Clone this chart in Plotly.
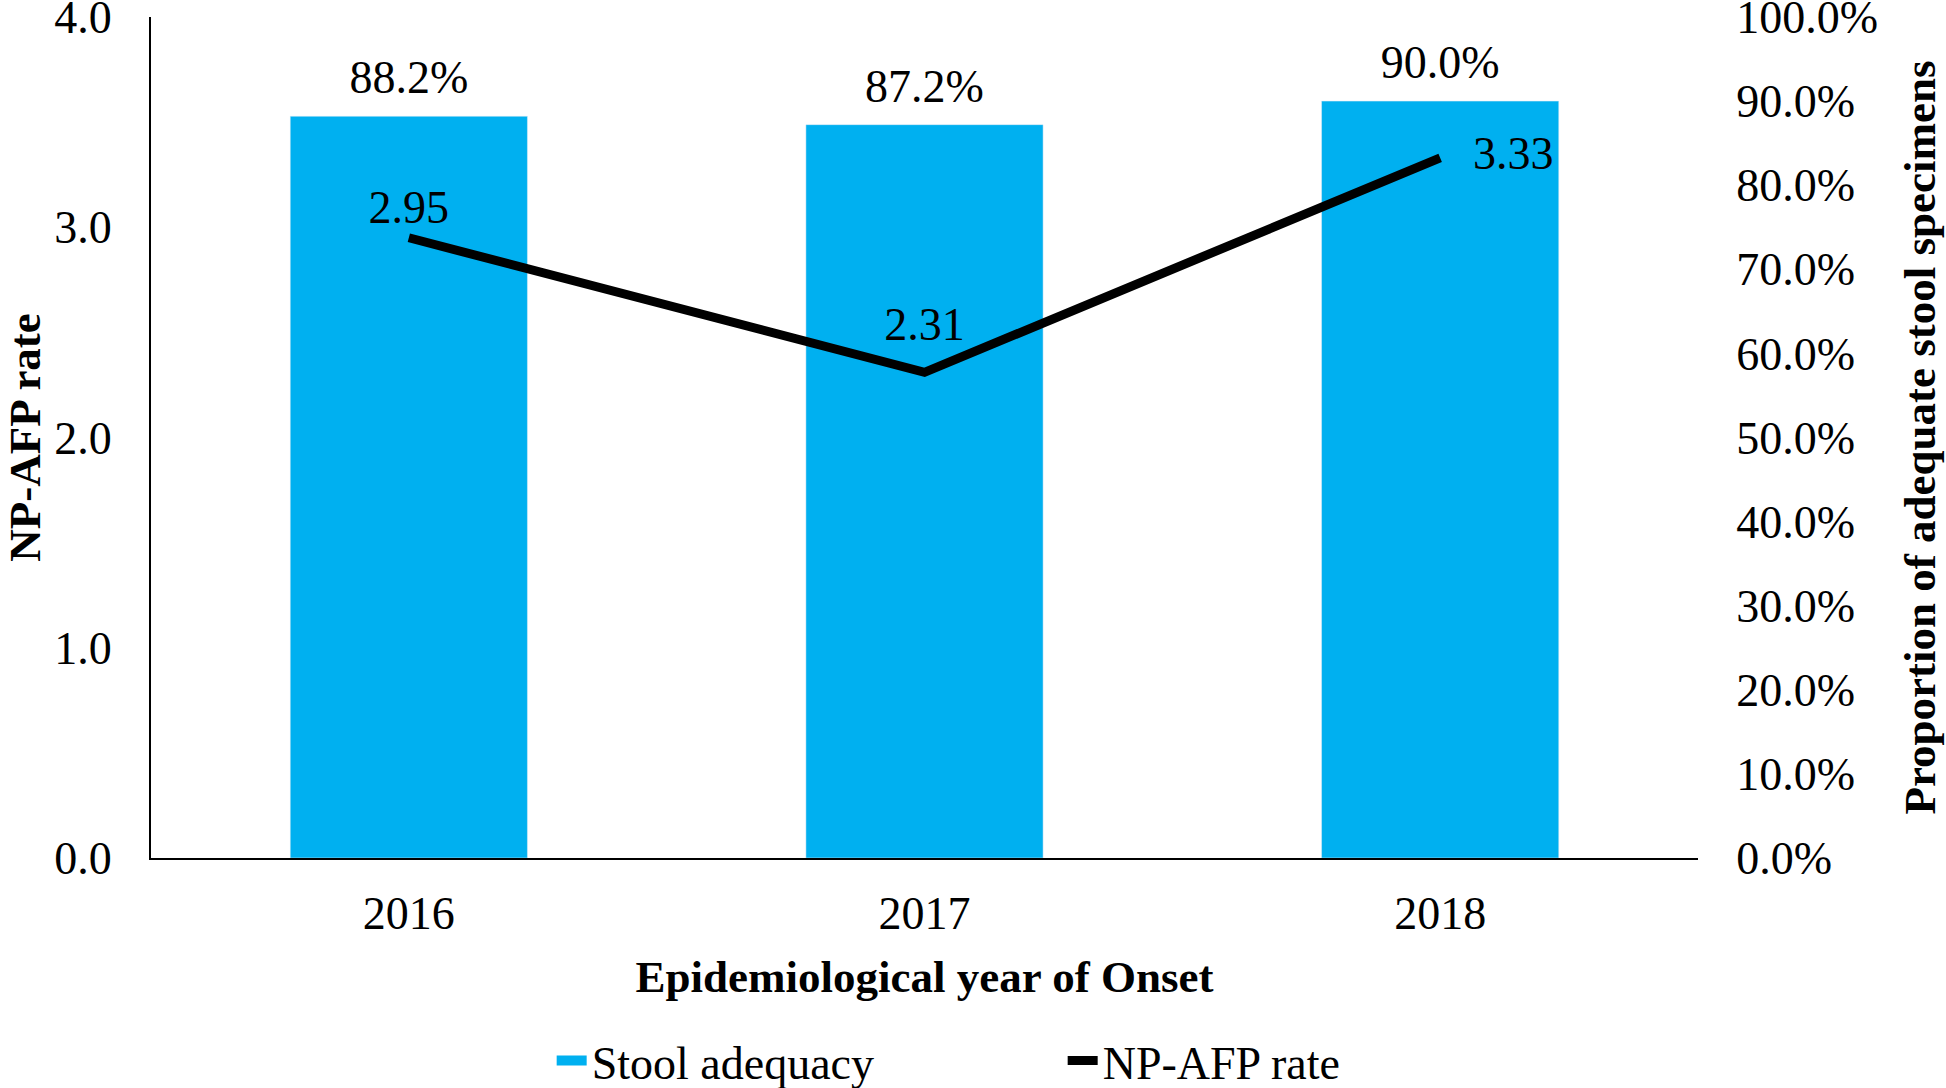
import plotly.graph_objects as go

years = ["2016", "2017", "2018"]
stool_adequacy = [0.882, 0.872, 0.900]
stool_labels = ["88.2%", "87.2%", "90.0%"]
np_afp_rate = [2.95, 2.31, 3.33]
np_afp_labels = ["2.95", "2.31", "3.33"]

FONT = "Liberation Serif, Times New Roman, serif"
BLUE = "#00B0F0"
CLEAR = "rgba(0,0,0,0)"
TS = 46   # tick / label text size
TT = 45   # axis title size

fig = go.Figure()
fig.add_trace(go.Bar(
    x=years, y=stool_adequacy, name="Stool adequacy", showlegend=False,
    marker_color=BLUE, xaxis="x", yaxis="y", hoverinfo="skip",
))
# value labels above the bars
fig.add_trace(go.Scatter(
    x=years, y=stool_adequacy, text=stool_labels, mode="markers+text",
    textposition="top center", marker=dict(size=17, color=CLEAR, line=dict(width=0, color=CLEAR)),
    textfont=dict(size=TS, family=FONT, color="black"), cliponaxis=False,
    showlegend=False, xaxis="x", yaxis="y", hoverinfo="skip",
))
# legend proxy with a wide swatch for the bar series
fig.add_trace(go.Scatter(
    x=[years[0]], y=[None], name="Stool adequacy", mode="lines",
    line=dict(color=BLUE, width=24), xaxis="x", yaxis="y",
))
fig.add_trace(go.Scatter(
    x=years, y=np_afp_rate, name="NP-AFP rate", mode="lines+markers+text",
    text=np_afp_labels, textposition=["top center", "top center", "middle right"],
    marker=dict(size=[4, 32, 51], color=CLEAR, line=dict(width=0, color=CLEAR)),
    textfont=dict(size=TS, family=FONT, color="black"), cliponaxis=False,
    line=dict(color="black", width=9), xaxis="x", yaxis="y2",
))

fig.update_layout(
    width=1946, height=1088,
    margin=dict(l=151, r=248, t=17, b=230, autoexpand=False),
    paper_bgcolor="white", plot_bgcolor="white",
    font=dict(family=FONT, size=TS, color="black"),
    bargap=0.54,
    showlegend=True,
    legend=dict(orientation="h", x=0.259, xanchor="left", y=-0.241, yanchor="middle",
                font=dict(size=TS, family=FONT), entrywidth=466, entrywidthmode="pixels",
                itemsizing="trace"),
    xaxis=dict(type="category", anchor="y", showline=True, linecolor="black", linewidth=2,
               showgrid=False, ticks="outside", ticklen=14, tickcolor=CLEAR,
               automargin=False, tickfont=dict(size=TS),
               title=dict(text="<b>Epidemiological year of Onset</b>", standoff=22,
                          font=dict(size=TT))),
    yaxis=dict(anchor="x", side="right", range=[0, 1], dtick=0.1, tickformat=".1%",
               showgrid=False, zeroline=False, automargin=False,
               ticks="outside", ticklen=28, tickcolor=CLEAR, tickfont=dict(size=TS),
               ticklabeloverflow="allow",
               title=dict(text="<b>Proportion of adequate stool specimens</b>", standoff=26,
                          font=dict(size=TT))),
    yaxis2=dict(anchor="x", overlaying="y", side="left", range=[0, 4], dtick=1,
                tickformat=".1f", showgrid=False, showline=True, linecolor="black",
                linewidth=2, zeroline=False, automargin=False,
                ticks="outside", ticklen=28, tickcolor=CLEAR, tickfont=dict(size=TS),
                ticklabeloverflow="allow",
                title=dict(text="<b>NP-AFP rate</b>", standoff=32, font=dict(size=TT))),
)

fig.write_html("out.html", config={"displayModeBar": False},
               post_script="document.body.style.margin='0px';")
